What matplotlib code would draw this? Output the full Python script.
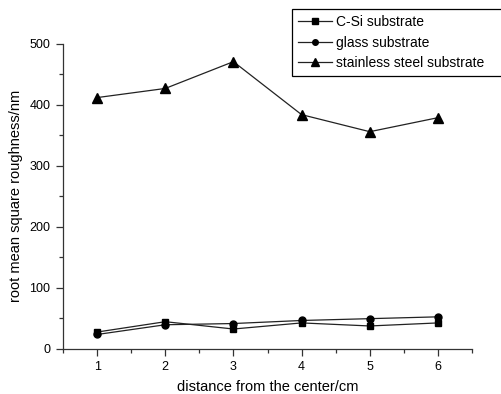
import matplotlib
matplotlib.use("Agg")
import matplotlib.pyplot as plt
from matplotlib.ticker import MultipleLocator

distance = [1, 2, 3, 4, 5, 6]
csi = [27, 44, 32, 42, 37, 42]
glass = [23, 39, 41, 46, 49, 52]
steel = [412, 427, 471, 384, 356, 379]

plt.rcParams["font.family"] = ["Liberation Sans", "DejaVu Sans"]
plt.rcParams["font.size"] = 8

fig = plt.figure(figsize=(5.01, 3.94), dpi=100)
ax = fig.add_axes([63 / 501, 1 - 348.5 / 394, (472 - 63) / 501, (348.5 - 44) / 394])

line_kw = dict(color="#222222", linewidth=0.9, markerfacecolor="black", markeredgecolor="black")
ax.plot(distance, csi, marker="s", markersize=5, label="C-Si substrate", **line_kw)
ax.plot(distance, glass, marker="o", markersize=5, label="glass substrate", **line_kw)
ax.plot(distance, steel, marker="^", markersize=6.5, label="stainless steel substrate", **line_kw)

ax.set_xlim(0.5, 6.5)
ax.set_ylim(0, 500)
ax.xaxis.set_major_locator(MultipleLocator(1))
ax.xaxis.set_minor_locator(MultipleLocator(0.5))
ax.yaxis.set_major_locator(MultipleLocator(100))
ax.yaxis.set_minor_locator(MultipleLocator(50))
ax.spines["top"].set_visible(False)
ax.spines["right"].set_visible(False)
for s in ("left", "bottom"):
    ax.spines[s].set_linewidth(0.9)
    ax.spines[s].set_color("#333333")
ax.tick_params(which="major", direction="out", length=5, width=0.9, color="#333333", labelsize=9, pad=4)
ax.tick_params(which="minor", direction="out", length=3, width=0.9, color="#333333")

ax.set_xlabel("distance from the center/cm", fontsize=10.5, labelpad=5)
ax.set_ylabel("root mean square roughness/nm", fontsize=10.5, labelpad=5)

leg = fig.legend(loc="upper left", bbox_to_anchor=(292 / 501, 1 - 9 / 394, 220 / 501, 0.0),
                 mode="expand", borderaxespad=0, fontsize=10, fancybox=False,
                 edgecolor="black", framealpha=1, handlelength=2.4, handletextpad=0.3,
                 labelspacing=0.45, borderpad=0.45, markerscale=0.8)
leg.get_frame().set_linewidth(0.9)

fig.savefig("out.png", dpi=100)
